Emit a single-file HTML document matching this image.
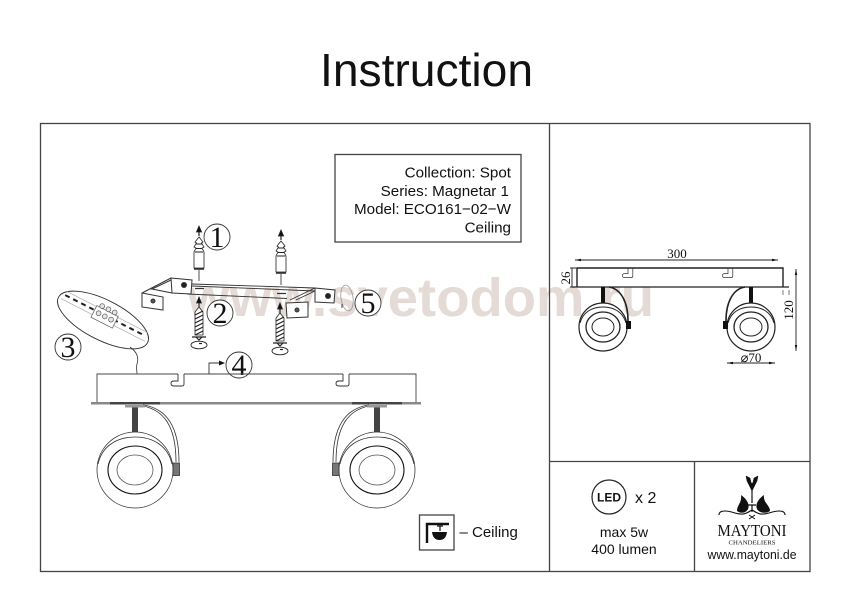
<!DOCTYPE html>
<html><head><meta charset="utf-8"><style>
html,body{margin:0;padding:0;background:#fff}
svg{display:block;filter:blur(.3px)}
text{font-family:"Liberation Sans",sans-serif;fill:#111}
</style></head><body>
<svg width="850" height="602" viewBox="0 0 850 602" xmlns="http://www.w3.org/2000/svg">
<defs>
<g id="lamp" fill="#fff" stroke="#333" stroke-width=".8">
  <path d="M8 -65 C30 -62 44 -45 44 -8 M8 -64 C28 -60 41 -45 41 -8" fill="none" stroke-width=".8"/>
  <rect x="-3" y="-63" width="6" height="25" fill="#444" stroke="none"/>
  <rect x="-10" y="-65" width="20" height="2.500" fill="#999" stroke="none"/>
  <circle r="38"/>
  <path d="M-37 -6 C-33 -24 -18 -33 0 -33 C18 -33 33 -24 37 -6" fill="none"/>
  <ellipse rx="27" ry="24" stroke="#111" stroke-width="1.100"/>
  <ellipse rx="18" ry="15" stroke="#555"/>
  <rect x="38" y="-7" width="6.500" height="12.500" fill="#777" stroke="#333"/>
</g>
<g id="mini" fill="#fff" stroke="#222" stroke-width="1">
  <path d="M6 -40 C18 -38 25 -25 25 -6" fill="none" stroke-width="1.600"/>
  <rect x="-2" y="-40" width="4" height="17" fill="#111" stroke="none"/>
  <circle r="24" stroke-width="1.200"/>
  <path d="M-23 -4 C-20 -15 -11 -20 0 -20 C11 -20 20 -15 23 -4" fill="none"/>
  <ellipse rx="17" ry="15" stroke-width="1.300"/>
  <ellipse rx="11" ry="9"/>
  <rect x="23" y="-6" width="5" height="8" fill="#111" stroke="none"/>
</g>
<g id="slot" fill="none" stroke="#333" stroke-width=".9">
  <path d="M0 0 V7 H-4 Q-7 7 -7 9.500 Q-7 12 -4 12 H4 Q6 12 6 10 V0"/>
</g>
<g id="anchor" fill="#fff" stroke="#222" stroke-width=".8">
  <path d="M0 -9 V-1" stroke-width="1.200"/>
  <path d="M-2.600 -5 L0 -11 L2.600 -5 Z" fill="#111"/>
  <path d="M0 0 L4 5 L2.500 6 L5 10 L3 11 L5 15 V31 H-5 V15 L-3 11 L-5 10 L-2.500 6 L-4 5 Z"/>
  <path d="M-3 7 H3 M-3.500 11.500 H3.500 M-4 15 H4" stroke-width="1"/>
  <path d="M-5 32 H5" stroke-width="1.500"/>
  <path d="M0 33 V44" stroke-width=".8"/>
</g>
<g id="screw" fill="#fff" stroke="#222" stroke-width=".8">
  <path d="M0 -8 V0" stroke-width="1.200"/>
  <path d="M-2.400 -4 L0 -10 L2.400 -4 Z" fill="#111"/>
  <path d="M0 0 L4 5 V28 H-4 V5 Z"/>
  <path d="M-4 8 L4 4 M-4 12 L4 8 M-4 16 L4 12 M-4 20 L4 16 M-4 24 L4 20 M-4 28 L4 24" stroke-width="1.200"/>
  <path d="M-7 30 H7 M-3 30 L0 33 L3 30" stroke-width="1.200"/>
  <ellipse cx="0" cy="38" rx="8" ry="3.800" fill="none" stroke-width=".9"/>
  <path d="M0 36.500 H3" stroke-width="1.200"/>
</g>
</defs>
<rect width="850" height="602" fill="#fff"/>

<text x="426.500" y="86" font-size="46" text-anchor="middle" textLength="213" lengthAdjust="spacingAndGlyphs" fill="#111">Instruction</text>

<!-- Watermark -->
<text x="187" y="316" font-size="54" font-weight="700" textLength="467" lengthAdjust="spacingAndGlyphs" style="fill:#e4dad6">www.svetodom.ru</text>

<!-- Frame -->
<g fill="none" stroke="#444" stroke-width="1.300">
  <rect x="40.500" y="123.500" width="769.500" height="448"/>
  <path d="M549.500 123 V571 M549 461.500 H810 M694.500 461 V571"/>
  <rect x="335" y="154.500" width="186" height="87.500"/>
  <rect x="419.500" y="515" width="34.500" height="35"/>
</g>

<!-- Info box -->
<g font-size="15.200" text-anchor="end">
  <text x="511" y="177.500">Collection: Spot</text>
  <text x="509" y="196">Series: Magnetar 1</text>
  <text x="511" y="214">Model: ECO161−02−W</text>
  <text x="511" y="232.500">Ceiling</text>
</g>

<!-- Bracket -->
<g fill="#fff" stroke="#333" stroke-width="1">
  <path d="M171 278 L142 293 M171 280 L152 289 L172 293" fill="none"/>
  <path d="M192 284 L315 288 M192 286 L315 291 M187 294 L287 298.500 M315 288 L290 300 M315 291 L296 300" fill="none" stroke-width=".9"/>
  <path d="M142 293 L163 297 V310 L142 307 Z"/>
  <path d="M171 278 L192 280 L191 294 L172 293 Z"/>
  <path d="M315 288 L335 290 L334 303 L315 302 Z"/>
  <path d="M286 303 L308 302 L308 317 L287 318 Z"/>
  <circle cx="153" cy="301" r="2" fill="#555"/>
  <circle cx="184" cy="285" r="2.500" fill="#222"/>
  <circle cx="328" cy="296" r="2.500" fill="#222"/>
  <circle cx="297" cy="310" r="2" fill="#555"/>
  <path d="M195 288.500 H204 M277 293.500 H286" stroke-width="1.300"/>
</g>

<use href="#anchor" x="199" y="237"/>
<use href="#anchor" x="281" y="241"/>
<use href="#screw" x="199" y="307"/>
<use href="#screw" x="280" y="313"/>

<ellipse cx="347" cy="298" rx="6" ry="13" fill="none" stroke="#999" stroke-width=".8" transform="rotate(-8 347 298)"/>
<path d="M342 304 V308" stroke="#444" stroke-width="1"/>

<!-- Detail ellipse -->
<g transform="rotate(27 103 320)">
  <ellipse cx="103" cy="320" rx="50" ry="20" fill="#fff" stroke="#333" stroke-width=".9"/>
  <path d="M58 315 H148" stroke="#222" stroke-width="2" stroke-dasharray="5 4"/>
  <path d="M56 320 H150 M57 311 H149" stroke="#aaa" stroke-width=".7"/>
  <rect x="91" y="310" width="24" height="13" fill="#fff" stroke="#666" stroke-width=".8"/>
  <g fill="#e5e5e5" stroke="#555" stroke-width=".7">
    <circle cx="96" cy="308" r="2.400"/><circle cx="103" cy="308" r="2.400"/><circle cx="110" cy="308" r="2.400"/>
    <circle cx="96" cy="316" r="2.400"/><circle cx="103" cy="316" r="2.400"/><circle cx="110" cy="316" r="2.400"/>
  </g>
</g>
<path d="M130 347 C137 352 139 358 137 364 C136 368 137 371 137 374" fill="none" stroke="#333" stroke-width=".8"/>

<!-- Number labels -->
<g fill="#fff" stroke="#333" stroke-width=".9">
  <circle cx="217" cy="237" r="13"/>
  <circle cx="220" cy="313" r="13"/>
  <circle cx="68" cy="347" r="13"/>
  <circle cx="239" cy="365" r="13"/>
  <circle cx="368" cy="303" r="13"/>
</g>
<g font-size="30" text-anchor="middle">
  <text x="217" y="247" style="font-family:'Liberation Serif',serif">1</text>
  <text x="220" y="323" style="font-family:'Liberation Serif',serif">2</text>
  <text x="68" y="357" style="font-family:'Liberation Serif',serif">3</text>
  <text x="239" y="375" style="font-family:'Liberation Serif',serif">4</text>
  <text x="368" y="313" style="font-family:'Liberation Serif',serif">5</text>
</g>
<path d="M209 374 V363 H221" fill="none" stroke="#333" stroke-width=".9"/>
<path d="M219 360.500 L225 363 L219 365.500 Z" fill="#111"/>

<!-- Main fixture -->
<g fill="none" stroke="#444" stroke-width=".9">
  <path d="M97 403 V374 H178 M184 374 H343 M349 374 H416 V403"/>
</g>
<use href="#slot" x="178" y="374"/>
<use href="#slot" x="343" y="374"/>
<rect x="91" y="402" width="330" height="2.500" fill="#888"/>
<rect x="110" y="402" width="50" height="2.500" fill="#444"/>
<rect x="352" y="402" width="50" height="2.500" fill="#444"/>
<use href="#lamp" x="135" y="470"/>
<use href="#lamp" transform="translate(377 470) scale(-1 1)"/>

<!-- Right diagram -->
<g fill="none" stroke="#222" stroke-width="1">
  <path d="M577 268 H783 V287 M577 268 V287" stroke-width="1.400"/>
  <path d="M572 287 H789" stroke-width="1.300"/>
  <path d="M575 260 H778 M572 268 V287 M570 268 H577 M570 287 H577 M796 269 V351 M727 363 H775" stroke-width=".9"/>
  <path d="M783 290 V295 M789 290 V295" stroke-width=".6"/>
</g>
<g fill="#111">
  <path d="M575 260 L581 258.800 V261.200 Z M778 260 L772 258.800 V261.200 Z M796 269 L794.800 275 H797.200 Z M796 351 L794.800 345 H797.200 Z M727 363 L733 361.800 V364.200 Z M775 363 L769 361.800 V364.200 Z"/>
</g>
<g transform="translate(628 268) scale(.8)"><use href="#slot"/></g>
<g transform="translate(728 268) scale(.8)"><use href="#slot"/></g>
<use href="#mini" x="603" y="327"/>
<use href="#mini" transform="translate(751 327) scale(-1 1)"/>
<g font-size="13" text-anchor="middle">
  <text x="677" y="258" style="font-family:'Liberation Serif',serif">300</text>
  <text x="751" y="362" style="font-family:'Liberation Serif',serif">⌀70</text>
  <text transform="translate(570 278) rotate(-90)" style="font-family:'Liberation Serif',serif">26</text>
  <text transform="translate(793 310) rotate(-90)" style="font-family:'Liberation Serif',serif">120</text>
</g>

<!-- Ceiling icon -->
<path d="M427 543 V524 H449" fill="none" stroke="#111" stroke-width="2.400"/>
<path d="M437 526 H443 M440 526 V531" stroke="#111" stroke-width="1.200"/>
<path d="M432 532 H447 Q446 540 439.500 540 Q433 540 432 532 Z" fill="#111"/>
<text x="459.500" y="537" font-size="15">– Ceiling</text>

<!-- LED cell -->
<circle cx="609" cy="497" r="17" fill="#fff" stroke="#222" stroke-width="1.200"/>
<text x="609" y="501.500" font-size="12" font-weight="700" text-anchor="middle">LED</text>
<text x="635" y="503" font-size="16">x 2</text>
<text x="624" y="537" font-size="14" text-anchor="middle">max 5w</text>
<text x="624" y="554" font-size="14" text-anchor="middle">400 lumen</text>

<!-- Maytoni logo -->
<g fill="#111" stroke="#111">
  <path d="M752 483 V503 M748 505 H756 M752 505 V512" stroke-width="1.200" fill="none"/>
  <path d="M746 476 L750 478 L752 486 L754 478 L758 476 L757 481 L752 491 L747 481 Z" stroke-width=".5"/>
  <path d="M737 511 C737 505 742 503 741 495 C747 499 750 505 748 509 C746 513 741 514 737 511 Z" stroke="none"/>
  <path d="M770 511 C770 505 763 503 764 495 C758 499 755 505 757 509 C759 513 766 514 770 511 Z" stroke="none"/>
  <path d="M719 515 C719 509 729 511 735 513 C745 516 748 512 752 510 C756 512 759 516 769 513 C775 511 785 509 785 515" fill="none" stroke-width="1.100"/>
  <path d="M749 515 L755 519 M755 515 L749 519" stroke-width="1"/>
</g>
<text x="752" y="536" font-size="17" text-anchor="middle" textLength="69" lengthAdjust="spacingAndGlyphs" style="font-family:'Liberation Serif',serif">MAYTONI</text>
<text x="752" y="544.500" font-size="6" text-anchor="middle" textLength="47" lengthAdjust="spacingAndGlyphs" style="font-family:'Liberation Serif',serif">CHANDELIERS</text>
<text x="752" y="559" font-size="12.500" text-anchor="middle" textLength="89" lengthAdjust="spacingAndGlyphs">www.maytoni.de</text>
</svg>
</body></html>
